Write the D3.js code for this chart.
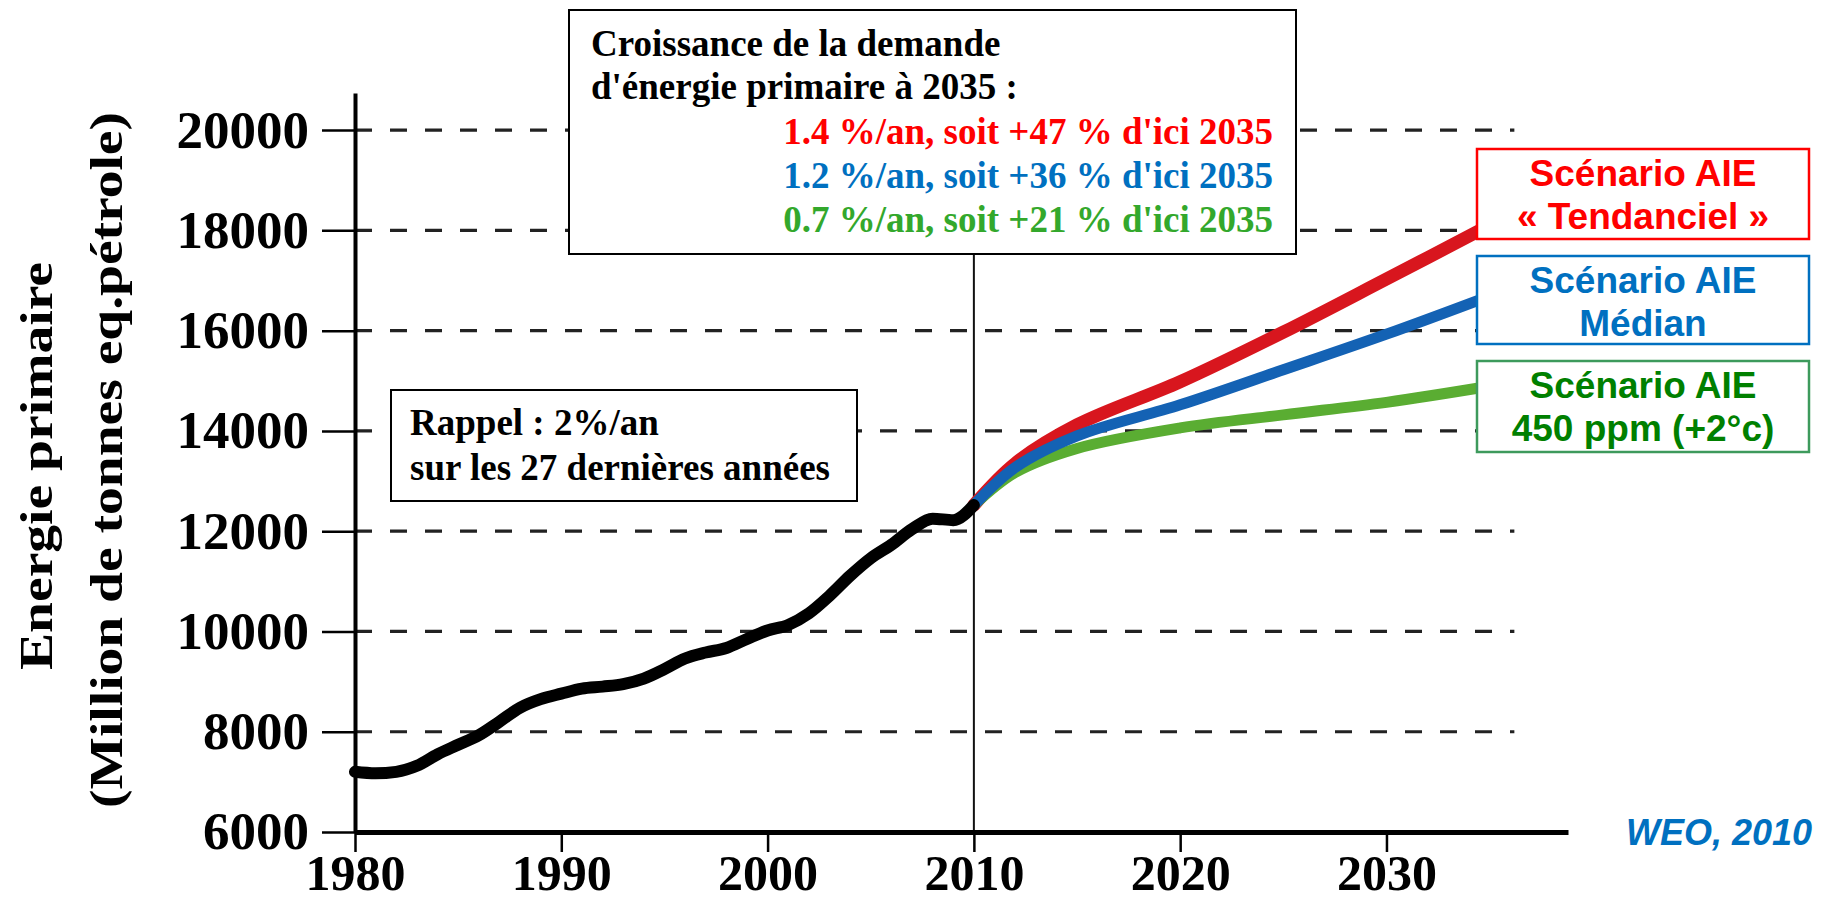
<!DOCTYPE html>
<meta charset="utf-8">
<style>
body { margin: 0; background: #fff; }
.serif { font-family: "Liberation Serif", "Times New Roman", serif; font-weight: bold; }
.sans { font-family: "Liberation Sans", Arial, sans-serif; font-weight: bold; }
</style>
<body>
<script src="https://d3js.org/d3.v7.min.js"></script>
<script>

// historical demand, Mtep
var histYears = [1980,1981,1982,1983,1984,1985,1986,1987,1988,1989,1990,1991,1992,1993,1994,1995,
                 1996,1997,1998,1999,2000,2001,2002,2003,2004,2005,2006,2007,2008,2009,2010];
var histValues = [7200,7170,7200,7320,7550,7740,7930,8200,8480,8650,8760,8860,8900,8950,9060,9250,
                  9460,9580,9670,9850,10020,10130,10360,10710,11110,11460,11730,12040,12250,12220,12520];

// IEA scenarios
var scenYears = [2010, 2012, 2015, 2020, 2025, 2030, 2035];
var tendanciel = [12520, 13350, 14120, 14980, 15970, 17030, 18100];
var median = [12520, 13270, 13900, 14520, 15220, 15930, 16690];
var ppm450 = [12520, 13170, 13650, 14060, 14320, 14570, 14890];

var xTicks = [1980, 1990, 2000, 2010, 2020, 2030];
var yTicks = [6000, 8000, 10000, 12000, 14000, 16000, 18000, 20000];

var W = 1826, H = 902;

var svg = d3.select("body").append("svg")
  .attr("width", W)
  .attr("height", H);

svg.append("rect").attr("width", W).attr("height", H).attr("fill", "#fff");

// scales
var x = d3.scaleLinear().domain([1980, 2038.8]).range([355, 1568]);
var y = d3.scaleLinear().domain([6000, 20740]).range([832, 93]);

// dashed gridlines
svg.append("g")
  .selectAll("line")
  .data(yTicks.slice(1))
  .join("line")
  .attr("x1", x(1980))
  .attr("x2", x(2036.2))
  .attr("y1", function(d) { return y(d); })
  .attr("y2", function(d) { return y(d); })
  .attr("stroke", "#222")
  .attr("stroke-width", 3.2)
  .attr("stroke-dasharray", "17,18");

// vertical 2010 marker
svg.append("line")
  .attr("x1", x(2010)).attr("x2", x(2010))
  .attr("y1", 20).attr("y2", y(6000))
  .attr("stroke", "#111")
  .attr("stroke-width", 2);

// y axis
var yAxis = svg.append("g")
  .attr("transform", "translate(" + x(1980) + ",0)")
  .call(d3.axisLeft(y).tickValues(yTicks).tickSize(33).tickSizeOuter(0).tickPadding(13)
        .tickFormat(d3.format("d")));
yAxis.select(".domain").attr("stroke", "#000").attr("stroke-width", 4);
yAxis.selectAll(".tick line").attr("stroke", "#000").attr("stroke-width", 2.5);
yAxis.selectAll(".tick text")
  .attr("class", "serif")
  .attr("font-size", 53)
  .attr("fill", "#000");

// x axis
var xAxis = svg.append("g")
  .attr("transform", "translate(0," + y(6000) + ")")
  .call(d3.axisBottom(x).tickValues(xTicks).tickSize(20).tickSizeOuter(0).tickPadding(2)
        .tickFormat(d3.format("d")));
xAxis.select(".domain").attr("stroke", "#000").attr("stroke-width", 5);
xAxis.selectAll(".tick line").attr("stroke", "#000").attr("stroke-width", 2.5);
xAxis.selectAll(".tick text")
  .attr("class", "serif")
  .attr("font-size", 50)
  .attr("fill", "#000");

// lines
var line = d3.line()
  .x(function(d) { return x(d[0]); })
  .y(function(d) { return y(d[1]); })
  .curve(d3.curveMonotoneX);

var smoothLine = d3.line()
  .x(function(d) { return x(d[0]); })
  .y(function(d) { return y(d[1]); })
  .curve(d3.curveCatmullRom.alpha(0.5));

function drawSeries(years, values, color, width, gen) {
  svg.append("path")
    .datum(years.map(function(yr, i) { return [yr, values[i]]; }))
    .attr("d", gen)
    .attr("fill", "none")
    .attr("stroke", color)
    .attr("stroke-width", width)
    .attr("stroke-linecap", "round")
    .attr("stroke-linejoin", "round");
}

drawSeries(scenYears, tendanciel, "#d8161e", 13, smoothLine);
drawSeries(scenYears, ppm450, "#5aad32", 11, smoothLine);
drawSeries(scenYears, median, "#1462b4", 11, smoothLine);
drawSeries(histYears, histValues, "#000", 12, line);

// y axis title
var yTitle = [
  {text: "Energie primaire", x: 36, y: 466, len: 408},
  {text: "(Million de tonnes eq.pétrole)", x: 106, y: 460, len: 696}
];
yTitle.forEach(function(t) {
  svg.append("text")
    .attr("class", "serif")
    .attr("transform", "translate(" + t.x + "," + t.y + ") rotate(-90)")
    .attr("text-anchor", "middle")
    .attr("dominant-baseline", "central")
    .attr("font-size", 47)
    .attr("textLength", t.len)
    .attr("lengthAdjust", "spacingAndGlyphs")
    .text(t.text);
});

// top annotation box
svg.append("rect")
  .attr("x", 569).attr("y", 10).attr("width", 727).attr("height", 244)
  .attr("fill", "#fff").attr("stroke", "#000").attr("stroke-width", 2);

var boxText = svg.append("g").attr("class", "serif").attr("font-size", 37);
boxText.append("text").attr("x", 591).attr("y", 56).text("Croissance de la demande");
boxText.append("text").attr("x", 591).attr("y", 99).text("d'énergie primaire à 2035 :");

var rates = [
  {text: "1.4 %/an, soit +47 % d'ici 2035", color: "#ff0000", y: 144},
  {text: "1.2 %/an, soit +36 % d'ici 2035", color: "#0070c0", y: 188},
  {text: "0.7 %/an, soit +21 % d'ici 2035", color: "#33a82c", y: 232}
];
rates.forEach(function(r) {
  boxText.append("text")
    .attr("x", 1273).attr("y", r.y)
    .attr("text-anchor", "end")
    .attr("fill", r.color)
    .text(r.text);
});

// rappel box
svg.append("rect")
  .attr("x", 391).attr("y", 390).attr("width", 466).attr("height", 111)
  .attr("fill", "#fff").attr("stroke", "#000").attr("stroke-width", 2);
var rappel = svg.append("g").attr("class", "serif").attr("font-size", 37);
rappel.append("text").attr("x", 410).attr("y", 435).text("Rappel : 2%/an");
rappel.append("text").attr("x", 410).attr("y", 480).text("sur les 27 dernières années");

// scenario labels
var legend = [
  {l1: "Scénario AIE", l2: "« Tendanciel »", color: "#ff0000", border: "#ff0000", y: 149, h: 90},
  {l1: "Scénario AIE", l2: "Médian", color: "#0070c0", border: "#0070c0", y: 256, h: 88},
  {l1: "Scénario AIE", l2: "450 ppm (+2°c)", color: "#008000", border: "#3d9a5c", y: 361, h: 91}
];
legend.forEach(function(d) {
  svg.append("rect")
    .attr("x", 1477).attr("y", d.y).attr("width", 332).attr("height", d.h)
    .attr("fill", "#fff").attr("stroke", d.border).attr("stroke-width", 2.5);
  var g = svg.append("g").attr("class", "sans").attr("font-size", 37)
    .attr("fill", d.color).attr("text-anchor", "middle");
  g.append("text").attr("x", 1643).attr("y", d.y + 37).text(d.l1);
  g.append("text").attr("x", 1643).attr("y", d.y + 80).text(d.l2);
});

// source
svg.append("text")
  .attr("class", "sans")
  .attr("x", 1812).attr("y", 845)
  .attr("text-anchor", "end")
  .attr("font-size", 36)
  .attr("font-style", "italic")
  .attr("fill", "#0070c0")
  .text("WEO, 2010");

</script>
</body>
